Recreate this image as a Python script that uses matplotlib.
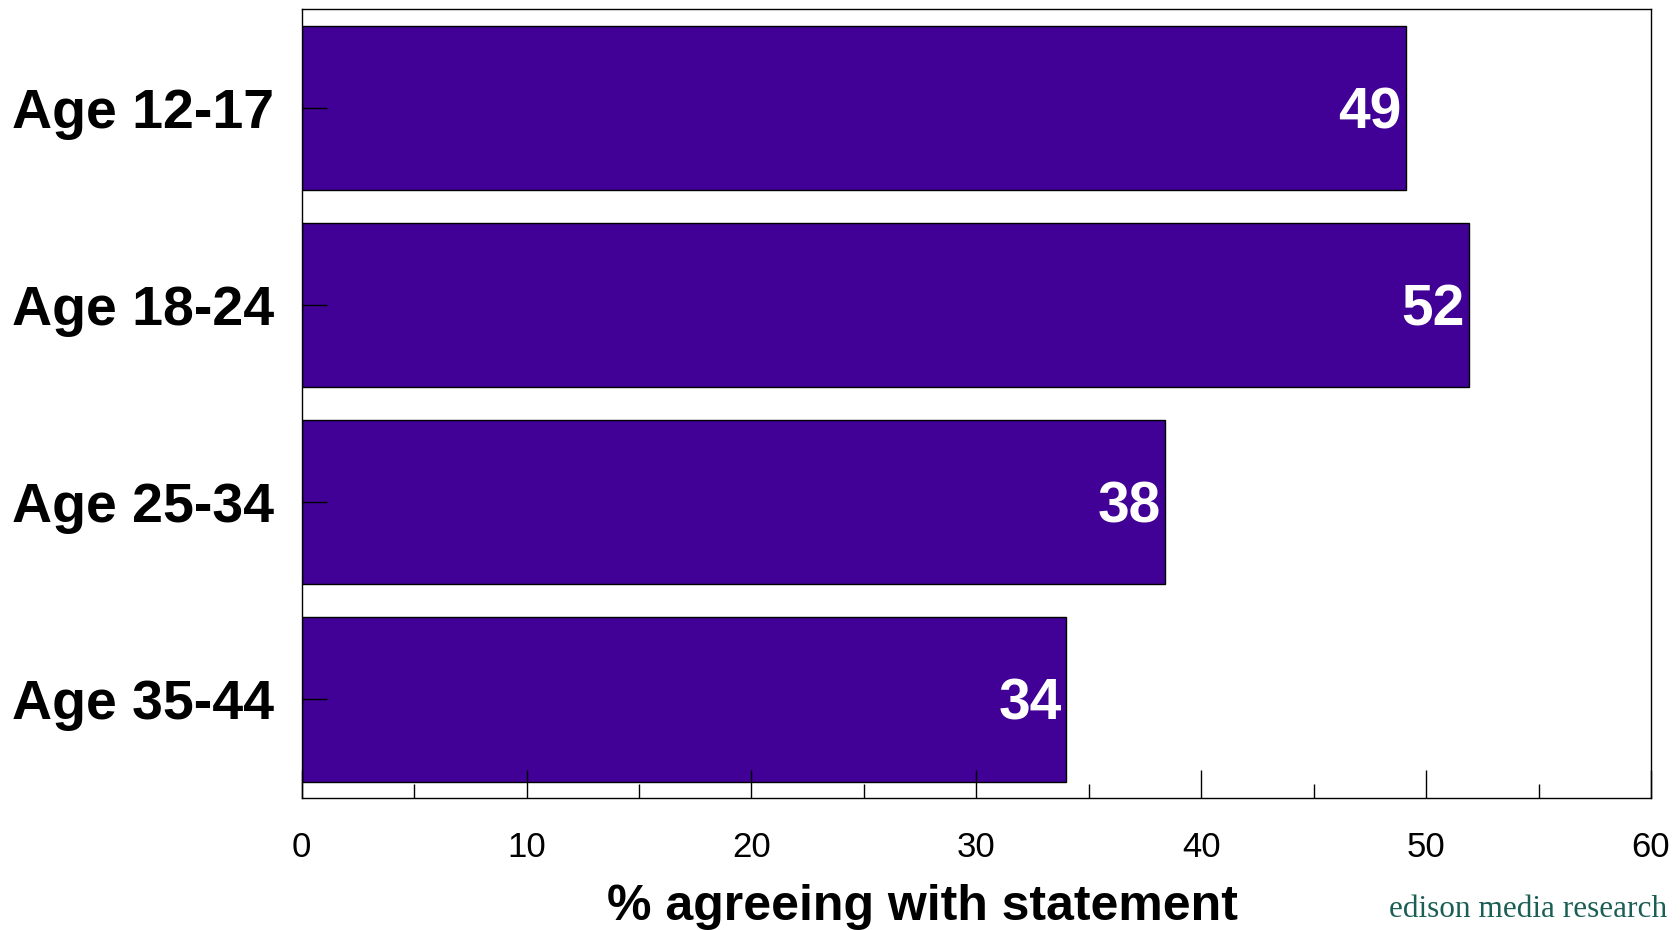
import matplotlib
matplotlib.use("Agg")
import matplotlib.pyplot as plt
from matplotlib.ticker import MultipleLocator

categories = ["Age 12-17", "Age 18-24", "Age 25-34", "Age 35-44"]
values = [49.1, 51.9, 38.4, 34.0]
value_labels = ["49", "52", "38", "34"]
x_ticks = [0, 10, 20, 30, 40, 50, 60]

plt.rcParams['font.family'] = ['Liberation Sans', 'DejaVu Sans']

W, H = 1681, 930
fig = plt.figure(figsize=(W / 100, H / 100), dpi=100)
ax = fig.add_axes([301.7 / W, 1 - 798 / H, (1651 - 301.7) / W, (798 - 9.3) / H])

y = list(range(len(categories)))
ax.barh(y, values, height=0.834, color='#410096', edgecolor='black', linewidth=1.0)
ax.set_ylim(3.5, -0.5)
ax.set_xlim(0, 60)

vfs = 41
for yi, v, lab in zip(y, values, value_labels):
    ax.annotate(lab, xy=(v, yi), xytext=(-3, -0.716 * vfs / 2), textcoords='offset points',
                ha='right', va='baseline', color='white', fontsize=vfs, fontweight='bold')

ax.set_yticks(y)
ax.set_yticklabels(categories, fontsize=40, fontweight='bold')
ax.set_xticks(x_ticks)
ax.set_xticklabels([str(t) for t in x_ticks], fontsize=25)
ax.xaxis.set_minor_locator(MultipleLocator(5))
ax.tick_params(axis='x', which='major', direction='in', length=20, width=1, pad=24)
ax.tick_params(axis='x', which='minor', direction='in', length=10, width=1)
ax.tick_params(axis='y', which='major', direction='in', length=18, width=1, pad=20)
for s in ax.spines.values():
    s.set_linewidth(1)
    s.set_color('black')

fig.text(922 / W, 1 - 920 / H, "% agreeing with statement", ha='center', va='baseline',
         fontsize=36, fontweight='bold')
fig.text(1667 / W, 1 - 917 / H, "edison media research", ha='right', va='baseline',
         fontsize=22.5, family=['Liberation Serif'], color='#1b5e55')

fig.savefig("out.png", dpi=100)
